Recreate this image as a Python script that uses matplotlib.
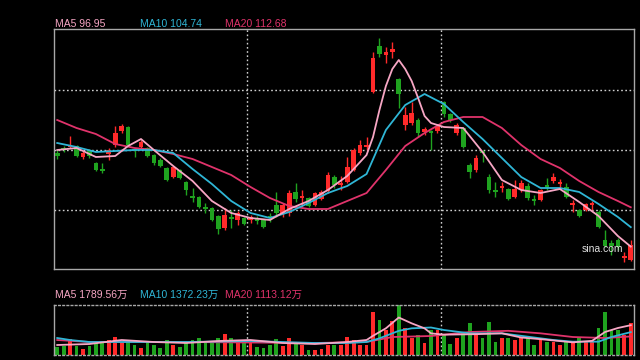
import matplotlib
matplotlib.use('Agg')
import matplotlib.pyplot as plt
import numpy as np

# daily K-line, prices in yuan, volume in 万
opens = [134.4, 136.4, 136.8, 137.2, 132.8, 135.6, 130.4, 128.0, 134.0, 137.6,
         143.2, 144.8, 136.0, 136.8, 136.4, 133.6, 131.6, 128.4, 124.8, 127.6,
         122.8, 117.2, 116.8, 112.8, 112.4, 109.2, 104.4, 108.8, 107.6, 108.4,
         107.6, 108.0, 107.6, 109.2, 113.6, 110.0, 110.4, 118.8, 116.4, 116.4,
         113.6, 116.0, 119.2, 124.8, 121.6, 122.8, 127.6, 134.4, 136.8, 158.8,
         177.2, 173.6, 174.8, 164.0, 145.6, 146.4, 147.6, 142.8, 143.2, 143.2,
         154.8, 150.0, 142.4, 144.4, 129.6, 127.6, 135.2, 124.8, 119.6, 120.4,
         120.0, 116.8, 119.6, 121.2, 116.0, 115.6, 121.6, 123.2, 122.0, 120.8,
         113.6, 111.6, 111.6, 113.6, 110.8, 99.6, 98.4, 99.6, 92.4, 91.6]
highs = [135.6, 137.2, 141.2, 137.6, 135.2, 136.0, 130.8, 130.4, 136.4, 145.2,
         146.0, 145.2, 136.4, 139.6, 136.8, 134.0, 132.4, 128.8, 129.2, 128.0,
         123.2, 120.4, 117.2, 114.4, 112.8, 109.6, 112.4, 111.6, 111.2, 108.8,
         109.6, 109.2, 108.0, 110.4, 118.8, 114.4, 119.6, 122.4, 119.6, 116.8,
         118.8, 119.6, 126.8, 125.6, 125.2, 132.8, 136.4, 139.6, 140.8, 174.8,
         180.4, 176.8, 178.8, 164.4, 152.8, 154.8, 148.4, 144.8, 143.6, 146.0,
         155.2, 150.4, 146.4, 144.8, 130.4, 133.6, 135.6, 126.0, 122.8, 122.8,
         120.4, 123.6, 123.6, 122.4, 117.6, 120.0, 124.4, 126.4, 124.0, 122.4,
         115.6, 112.0, 114.4, 115.2, 111.6, 103.6, 99.6, 100.4, 94.8, 99.6]
lows = [132.0, 134.8, 136.4, 132.8, 132.0, 132.4, 127.2, 126.4, 131.6, 136.8,
        142.4, 137.2, 132.8, 136.4, 132.8, 129.6, 128.8, 123.2, 124.4, 124.0,
        117.6, 114.8, 112.4, 110.4, 107.2, 102.0, 103.6, 104.4, 105.6, 105.6,
        106.4, 106.0, 104.4, 106.8, 108.8, 108.8, 109.2, 114.8, 112.8, 112.8,
        113.2, 115.6, 118.4, 120.4, 119.6, 122.4, 127.2, 133.6, 135.6, 158.4,
        172.8, 170.4, 172.4, 152.4, 143.6, 145.6, 140.8, 141.6, 135.6, 142.4,
        148.8, 146.8, 141.6, 136.4, 124.4, 126.8, 130.8, 118.4, 116.8, 118.8,
        115.6, 116.4, 118.8, 115.6, 113.6, 115.2, 119.6, 122.4, 120.4, 116.4,
        110.8, 108.8, 111.2, 111.6, 104.4, 96.8, 93.6, 95.6, 90.8, 91.2]
closes = [133.2, 135.6, 137.6, 133.2, 134.4, 133.2, 127.6, 127.2, 135.6, 142.4,
          145.2, 137.6, 135.2, 138.8, 133.2, 130.4, 129.2, 123.6, 128.8, 124.4,
          119.6, 116.4, 112.8, 112.0, 107.6, 104.0, 109.6, 108.0, 110.4, 106.0,
          108.8, 107.2, 104.8, 108.4, 110.4, 113.6, 118.4, 116.0, 117.2, 113.2,
          118.4, 118.8, 125.6, 121.6, 122.4, 128.8, 135.6, 137.6, 137.6, 172.4,
          174.0, 174.8, 176.0, 158.0, 149.6, 150.4, 142.4, 144.0, 142.4, 145.2,
          150.0, 147.6, 145.6, 136.8, 126.8, 132.4, 134.4, 119.6, 118.8, 121.2,
          116.0, 120.0, 122.4, 116.4, 115.2, 119.6, 120.8, 124.8, 122.8, 116.8,
          114.4, 109.2, 114.0, 114.4, 104.8, 97.2, 97.2, 96.8, 93.2, 97.6]
volumes = [500, 560, 950, 560, 360, 560, 800, 800, 900, 1100,
           750, 800, 600, 440, 800, 600, 440, 900, 600, 500,
           840, 900, 1000, 700, 800, 1000, 1260, 1050, 800, 800,
           700, 500, 420, 600, 960, 560, 1000, 800, 600, 300,
           330, 360, 600, 600, 600, 1060, 900, 600, 600, 2600,
           2100, 1500, 2060, 3000, 1600, 1000, 1200, 700, 1500, 1500,
           1200, 660, 1000, 1400, 1900, 1200, 1000, 2000, 800, 1000,
           1000, 900, 1100, 1000, 600, 900, 800, 800, 600, 800,
           700, 1000, 800, 800, 1600, 2600, 1500, 1500, 1200, 1900]

# moving averages (candle index, value)
ma5_idx = [0, 3, 6, 9, 11, 13, 15, 18, 21, 24, 27, 30, 33, 36, 39, 42, 45, 48, 49, 50,
           51, 52, 53, 54, 55, 56, 57, 58, 60, 63, 66, 69, 72, 75, 78, 81, 84, 87, 89]
ma5 = [135.6, 136.4, 132.8, 133.2, 137.2, 140.0, 135.6, 129.2, 123.2, 115.2,
       110.4, 108.4, 107.6, 112.0, 115.2, 119.6, 125.2, 133.6, 140.8, 151.6,
       161.2, 168.0, 171.6, 168.0, 163.2, 156.4, 149.2, 146.4, 144.8, 144.4,
       134.8, 123.6, 119.6, 118.4, 120.0, 114.8, 109.2, 101.2, 96.95]
ma_idx = [0, 3, 6, 9, 12, 15, 18, 21, 24, 27, 30, 33, 36, 39, 42, 45,
          48, 51, 54, 57, 60, 63, 66, 69, 72, 75, 78, 81, 84, 87, 89]
ma10 = [138.4, 136.8, 134.8, 135.2, 135.6, 135.6, 134.4, 128.0, 122.0, 115.2,
        110.4, 108.4, 110.8, 114.4, 118.4, 121.2, 126.0, 143.6, 153.6, 158.0,
        154.0, 146.8, 140.0, 132.4, 124.8, 120.4, 120.4, 118.8, 114.0, 108.8, 104.74]
ma20 = [147.6, 144.4, 142.0, 138.0, 136.4, 135.6, 134.0, 132.0, 128.8, 125.6,
        120.8, 116.4, 113.2, 112.0, 112.0, 115.2, 118.4, 127.6, 137.2, 142.4,
        146.8, 148.8, 148.8, 144.4, 137.6, 132.0, 128.4, 123.2, 118.8, 115.2, 112.68]

vma5_idx = [0, 5, 10, 15, 20, 25, 30, 35, 40, 45, 48, 49, 51, 53,
            55, 57, 58, 60, 65, 69, 72, 75, 80, 83, 85, 87, 89]
vma5 = [600, 660, 900, 780, 720, 840, 900, 720, 660, 780, 900, 1150, 1600, 2250,
        1900, 1600, 1300, 1220, 1250, 1300, 1050, 950, 760, 850, 1380, 1620, 1789.56]
vma10_idx = [0, 2, 5, 10, 20, 30, 40, 45, 48, 50, 53, 55, 58, 60, 64, 69, 72, 77, 80, 84, 86, 89]
vma10 = [1020, 900, 780, 780, 780, 840, 720, 720, 780, 1000, 1450, 1600,
         1650, 1500, 1300, 1300, 1150, 900, 800, 800, 1080, 1372.23]
vma20_idx = [0, 5, 20, 40, 48, 52, 58, 64, 70, 75, 80, 85, 89]
vma20 = [900, 780, 780, 720, 780, 1080, 1140, 1380, 1450, 1300, 1080, 1020, 1113.12]

RED = '#ff2a2a'
GREEN = '#1fa31f'
C5 = '#f7a6c4'
C10 = '#2fb6d6'
C20 = '#e0336b'
FONT = ['Liberation Sans', 'Noto Sans CJK SC']
DOTS = (0, (1.2, 1.8))

fig = plt.figure(figsize=(6.4, 3.6), dpi=100, facecolor='black')
ax = fig.add_axes([54 / 640, 1 - 269 / 360, 580 / 640, 240 / 360], facecolor='black')
axv = fig.add_axes([54 / 640, 1 - 355 / 360, 580 / 640, 50 / 360], facecolor='black')

o = np.array(opens)
c = np.array(closes)
x = np.arange(len(c))
cols = np.where(c >= o, RED, GREEN)

# candles
ax.vlines(x, lows, highs, colors=cols, lw=1, zorder=2)
ax.bar(x, np.maximum(np.abs(c - o), 0.45), bottom=np.minimum(o, c), width=0.72,
       color=cols, linewidth=0, zorder=3)
ax.plot(ma_idx, ma20, color=C20, lw=1.3, zorder=4)
ax.plot(ma_idx, ma10, color=C10, lw=1.3, zorder=4)
ax.plot(ma5_idx, ma5, color=C5, lw=1.3, zorder=5)

ax.set_xlim(-0.5, len(c) - 0.5)
ax.set_ylim(88, 184)
ax.set_yticks([111.6, 135.6, 159.6])
ax.set_xticks([29.5, 59.5])
ax.grid(True, color='#d0d0d0', linestyle=DOTS, lw=1)
ax.tick_params(left=False, bottom=False, labelleft=False, labelbottom=False)
for s in ax.spines.values():
    s.set_color('#a8a8a8')
    s.set_linewidth(1)

# volume
axv.bar(x, volumes, width=0.6, color=cols, linewidth=0, zorder=2)
axv.plot(vma20_idx, vma20, color=C20, lw=1.3, zorder=3)
axv.plot(vma10_idx, vma10, color=C10, lw=1.3, zorder=3)
axv.plot(vma5_idx, vma5, color=C5, lw=1.3, zorder=4)
axv.set_xlim(-0.5, len(c) - 0.5)
axv.set_ylim(0, 3000)
axv.set_yticks([])
axv.set_xticks([29.5, 59.5])
axv.grid(True, axis='x', color='#d0d0d0', linestyle=DOTS, lw=1)
axv.tick_params(left=False, bottom=False, labelleft=False, labelbottom=False)
for k, s in axv.spines.items():
    s.set_color('#a8a8a8')
    s.set_linewidth(1)
    if k in ('top', 'bottom'):
        s.set_linestyle(DOTS)

# legends
for xpos, txt, col in [(55, 'MA5 96.95', C5), (140, 'MA10 104.74', C10), (225, 'MA20 112.68', C20)]:
    fig.text(xpos / 640, 1 - 24 / 360, txt, color=col, fontsize=7.5, family=FONT, va='center')
for xpos, txt, col in [(55, 'MA5 1789.56万', C5), (140, 'MA10 1372.23万', C10),
                       (225, 'MA20 1113.12万', C20)]:
    fig.text(xpos / 640, 1 - 295 / 360, txt, color=col, fontsize=7.5, family=FONT, va='center')
fig.text(582 / 640, 1 - 249 / 360, 'sina.com', color='#e0e0e0', fontsize=7.5, family=FONT, va='center')

fig.savefig('out.png', dpi=100, facecolor='black')
